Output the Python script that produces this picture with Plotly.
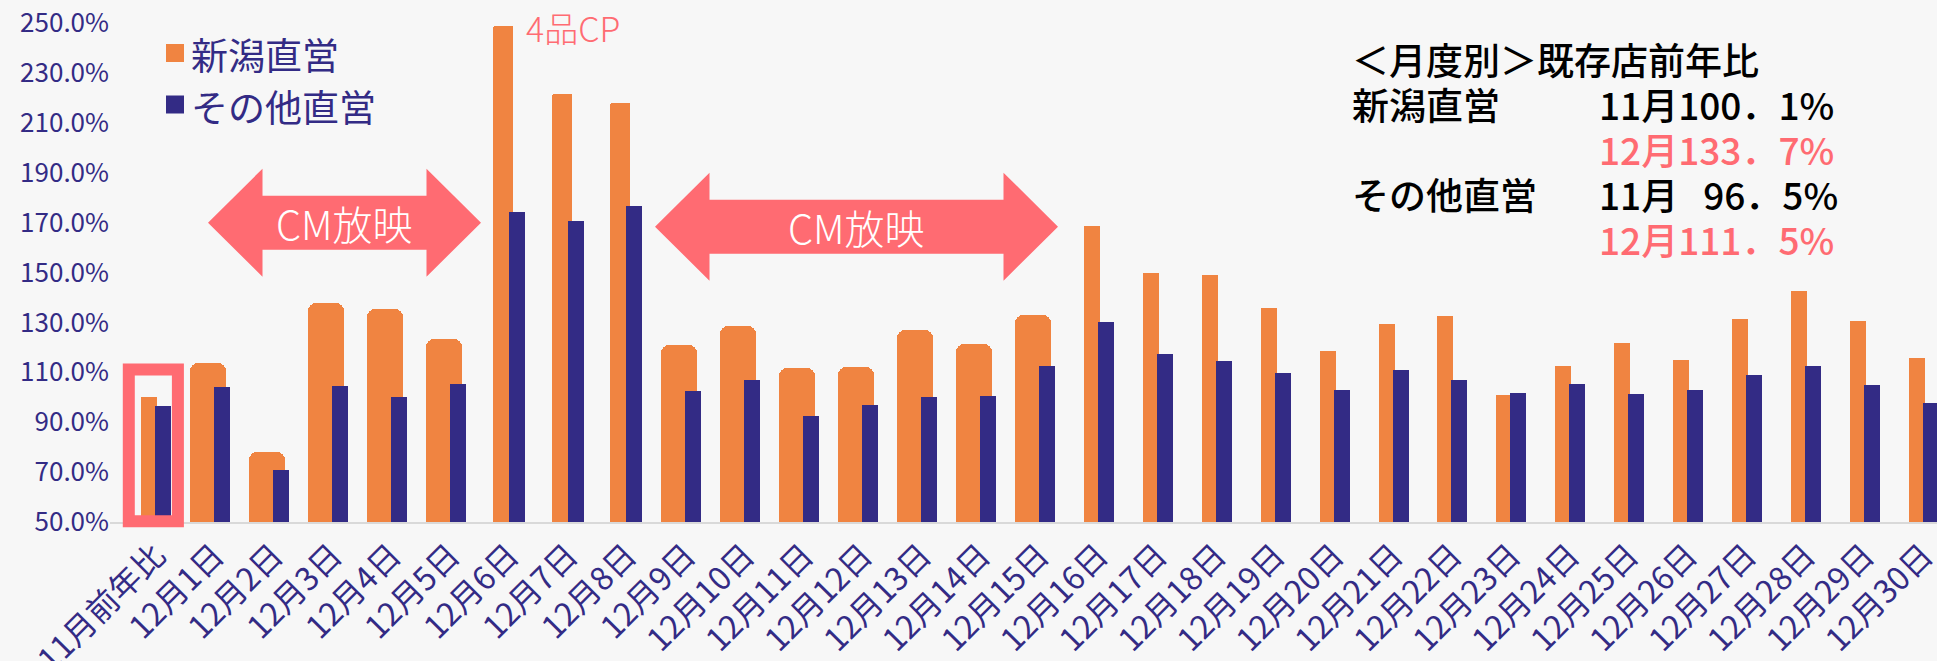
import plotly.graph_objects as go

# ---------------- data ----------------
categories = ["11月前年比"] + [f"12月{d}日" for d in range(1, 31)]

niigata = [100.1, 113.9, 77.9, 137.6, 135.2, 123.2, 248.9, 221.4, 217.8, 120.9,
           128.6, 111.9, 112.1, 127.0, 121.3, 133.0, 168.7, 149.7, 148.9, 135.9,
           118.4, 129.4, 132.7, 100.9, 112.4, 121.6, 115.1, 131.5, 142.7, 130.6,
           115.6]

others = [96.5, 104.2, 70.8, 104.6, 100.0, 105.3, 174.4, 170.6, 176.8, 102.6,
          106.9, 92.6, 96.9, 100.2, 100.6, 112.5, 130.3, 117.2, 114.7, 109.8,
          102.8, 110.9, 106.8, 101.6, 105.3, 101.2, 103.0, 108.8, 112.7, 104.8,
          97.8]

series_names = ["新潟直営", "その他直営"]
y_ticks = list(range(50, 251, 20))

# bar style group of each orange bar: w = wide rounded, m = medium, n = narrow
orange_style = ["n", "w", "w", "w", "w", "w", "m", "m", "m", "w",
                "w", "w", "w", "w", "w", "w", "n", "n", "n", "n",
                "n", "n", "n", "n", "n", "n", "n", "n", "n", "n", "n"]

# ---------------- styling ----------------
FONT = "Noto Sans CJK JP"
ORANGE = "#F08441"
NAVY = "#332B85"
SALMON = "#FF6B72"
BG = "#F7F7F7"

W, H = 1937, 661
PLOT_L, PLOT_R, PLOT_T, PLOT_B = 110, 1937, 23, 522
CAT0_PX, CAT_STEP = 156.0, 58.93


def px_w(px):
    return px / CAT_STEP


def pxx(px):  # pixel x -> paper
    return (px - PLOT_L) / (PLOT_R - PLOT_L)


def pxy(py):  # pixel y -> paper
    return (PLOT_B - py) / (PLOT_B - PLOT_T)


def catx(px):  # pixel x -> category coordinate
    return (px - CAT0_PX) / CAT_STEP


def valy(py):  # pixel y -> value
    return 50 + (PLOT_B - py) * 200.0 / (PLOT_B - PLOT_T)


fig = go.Figure()

style_params = {
    "w": dict(width=px_w(36), offset=px_w(-25), radius=8),
    "m": dict(width=px_w(20), offset=px_w(-17), radius=2),
    "n": dict(width=px_w(16), offset=px_w(-15), radius=1),
}
for key, p in style_params.items():
    fig.add_trace(go.Bar(
        x=categories,
        y=[v if s == key else None for v, s in zip(niigata, orange_style)],
        width=p["width"], offset=p["offset"],
        marker=dict(color=ORANGE, cornerradius=p["radius"], line=dict(width=0)),
        name=series_names[0], showlegend=False,
    ))

fig.add_trace(go.Bar(
    x=categories, y=others,
    width=px_w(16), offset=px_w(-1),
    marker=dict(color=NAVY, cornerradius=1, line=dict(width=0)),
    name=series_names[1], showlegend=False,
))


def double_arrow(x0, x1, yc, head_len, head_half, shaft_half):
    pts = [
        (x0, yc), (x0 + head_len, yc + head_half), (x0 + head_len, yc + shaft_half),
        (x1 - head_len, yc + shaft_half), (x1 - head_len, yc + head_half), (x1, yc),
        (x1 - head_len, yc - head_half), (x1 - head_len, yc - shaft_half),
        (x0 + head_len, yc - shaft_half), (x0 + head_len, yc - head_half),
    ]
    return "M " + " L ".join(f"{a:.4f},{b:.3f}" for a, b in pts) + " Z"


px_per_val = (PLOT_B - PLOT_T) / 200.0
arrows = [
    dict(x0=catx(208), x1=catx(481), yc=valy(222.7)),
    dict(x0=catx(655), x1=catx(1058), yc=valy(226.7)),
]
shapes = []
annotations = []
for a in arrows:
    shapes.append(dict(
        type="path", xref="x", yref="y",
        path=double_arrow(a["x0"], a["x1"], a["yc"], px_w(54.5),
                          54 / px_per_val, 27 / px_per_val),
        fillcolor=SALMON, line=dict(width=0), layer="above",
    ))
    annotations.append(dict(
        x=(a["x0"] + a["x1"]) / 2, y=a["yc"], xref="x", yref="y",
        text="CM放映", showarrow=False,
        font=dict(family=FONT, size=40, color="white", weight=300),
        xanchor="center", yanchor="middle",
    ))

# highlight box around 11月前年比
shapes.append(dict(
    type="rect", xref="x", yref="paper",
    x0=catx(128.8), x1=catx(177.9), y0=pxy(521.3), y1=pxy(369.5),
    line=dict(color=SALMON, width=12), fillcolor="rgba(0,0,0,0)", layer="above",
))

# legend (squares + labels)
for i, (name, col) in enumerate(zip(series_names, [ORANGE, NAVY])):
    yc = [53, 104.5][i]
    shapes.append(dict(
        type="rect", xref="paper", yref="paper",
        x0=pxx(166), x1=pxx(184), y0=pxy(yc + 9), y1=pxy(yc - 9),
        fillcolor=col, line=dict(width=0),
    ))
    annotations.append(dict(
        x=pxx(189), y=pxy(yc + 1), xref="paper", yref="paper",
        text=name, showarrow=False, xanchor="left", yanchor="middle",
        font=dict(family=FONT, size=37, color=NAVY),
    ))

# 4品CP label
annotations.append(dict(
    x=catx(524), y=valy(27), xref="x", yref="y", text="4品CP",
    showarrow=False, xanchor="left", yanchor="middle",
    font=dict(family=FONT, size=34, color=SALMON, weight=300),
))

# monthly summary block
summary = [
    (1350, 59, "＜月度別＞既存店前年比", "black"),
    (1350, 104, "新潟直営", "black"),
    (1350, 194, "その他直営", "black"),
    (1597, 104, "11月100．1%", "black"),
    (1597, 149, "12月133．7%", SALMON),
    (1597, 194, "11月&nbsp;&nbsp;&nbsp;96．5%", "black"),
    (1597, 239, "12月111．5%", SALMON),
]
for x, y, t, c in summary:
    annotations.append(dict(
        x=pxx(x), y=pxy(y), xref="paper", yref="paper", text=t,
        showarrow=False, xanchor="left", yanchor="middle",
        font=dict(family=FONT, size=37, color=c, weight=500),
    ))

fig.update_layout(
    width=W, height=H,
    margin=dict(l=PLOT_L, r=W - PLOT_R, t=PLOT_T, b=H - PLOT_B),
    paper_bgcolor=BG, plot_bgcolor=BG,
    barmode="overlay", bargap=0,
    showlegend=False,
    shapes=shapes, annotations=annotations,
    font=dict(family=FONT, color=NAVY),
    xaxis=dict(
        type="category", range=[catx(PLOT_L), catx(PLOT_R)],
        automargin=False,
        tickangle=-45, tickfont=dict(family=FONT, size=32, color=NAVY),
        showline=True, linecolor="#D9D9D9", linewidth=2,
        showgrid=False, zeroline=False, ticks="",
    ),
    yaxis=dict(
        range=[50, 250], tickvals=y_ticks, automargin=False,
        ticktext=[f"{v:.1f}%" for v in y_ticks],
        tickfont=dict(family=FONT, size=26, color=NAVY),
        showgrid=False, zeroline=False, showline=False, ticks="",
    ),
)

fig.write_html(
    "out.html",
    config={"displayModeBar": False},
    post_script="document.body.style.margin='0';document.body.style.background='#F7F7F7';",
)
